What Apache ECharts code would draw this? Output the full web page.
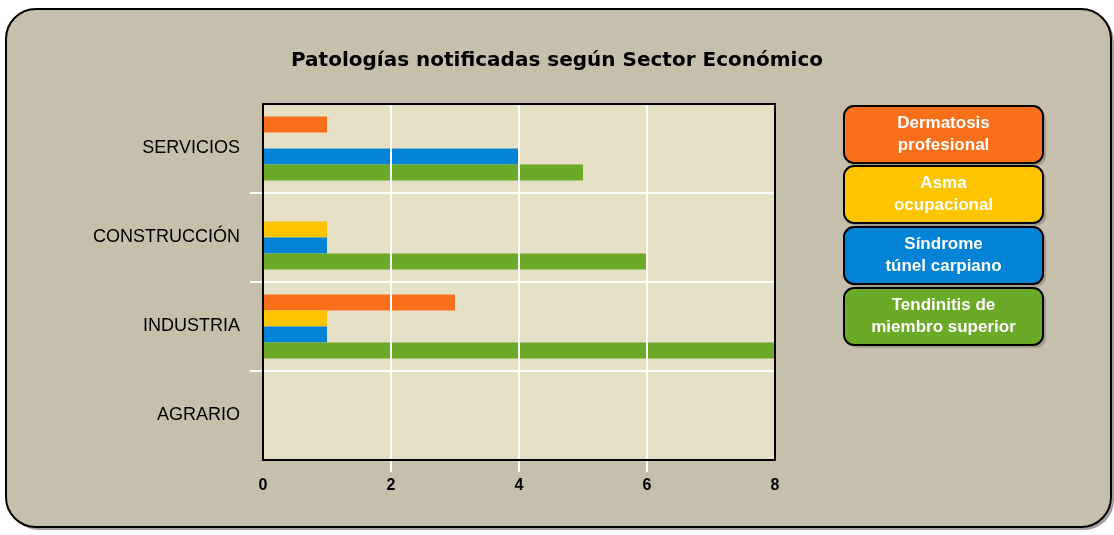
<!DOCTYPE html>
<html><head><meta charset="utf-8">
<script src="https://cdn.jsdelivr.net/npm/echarts@6/dist/echarts.min.js"></script>
<style>html,body{margin:0;padding:0;background:#fff}#c{width:1114px;height:535px}</style>
</head><body><div id="c"></div>
<script>
const titleText = 'Patologías notificadas según Sector Económico';
const categories = ['SERVICIOS', 'CONSTRUCCIÓN', 'INDUSTRIA', 'AGRARIO'];
const seriesNames = ['Dermatosis profesional', 'Asma ocupacional', 'Síndrome túnel carpiano', 'Tendinitis de miembro superior'];
const legendLabels = ['Dermatosis\nprofesional', 'Asma\nocupacional', 'Síndrome\ntúnel carpiano', 'Tendinitis de\nmiembro superior'];
const dermatosis = [1, 0, 3, 0];
const asma = [0, 1, 1, 0];
const sindrome = [4, 1, 1, 0];
const tendinitis = [5, 6, 8, 0];
const xTicks = [0, 2, 4, 6, 8];
const colors = ['#f96f1a', '#fec400', '#0283d6', '#6aaa27'];

const seriesData = [dermatosis, asma, sindrome, tendinitis];
const G = {left: 263, top: 104, width: 512, height: 356};

const chart = echarts.init(document.getElementById('c'), null, {renderer: 'canvas'});

const legendGraphics = [];
const boxTops = [105, 165, 226, 287];
legendLabels.forEach((lab, i) => {
  legendGraphics.push({
    type: 'group', left: 843, top: boxTops[i], z: 20,
    children: [
      {type: 'rect', shape: {x: 3, y: 3, width: 199, height: 57, r: 10},
       style: {fill: 'rgba(120,110,100,0.45)'}},
      {type: 'rect', shape: {x: 0, y: 0, width: 199, height: 57, r: 10},
       style: {fill: colors[i], stroke: '#000', lineWidth: 2}},
      {type: 'text', x: 99.5, y: 28.5,
       style: {text: lab, fill: '#fff', font: 'bold 17px "Liberation Sans", Arial, sans-serif', align: 'center', verticalAlign: 'middle', lineHeight: 22}}
    ]
  });
});

const option = {
  animation: false,
  title: {
    text: titleText, left: 'center', top: 46,
    textStyle: {fontFamily: '"DejaVu Sans", sans-serif', fontWeight: 'bold', fontSize: 20, color: '#000'}
  },
  graphic: [
    {type: 'rect', left: 9, top: 12, z: -11,
     shape: {width: 1105, height: 518, r: 30},
     style: {fill: '#a39e9c'}},
    {type: 'rect', left: 5, top: 8, z: -10,
     shape: {width: 1105, height: 518, r: 30},
     style: {fill: '#c6bfab', stroke: '#000', lineWidth: 2}},
    {type: 'rect', z: 15, silent: true,
     shape: {x: G.left, y: G.top, width: G.width, height: G.height},
     style: {fill: null, stroke: '#000', lineWidth: 2}},
    ...legendGraphics
  ],
  grid: [
    {left: G.left, top: G.top, width: G.width, height: G.height, show: true, backgroundColor: '#e6e0c6', borderWidth: 0, containLabel: false},
    {left: G.left, top: G.top, width: G.width, height: G.height, show: false, containLabel: false}
  ],
  xAxis: [
    {
      type: 'value', gridIndex: 0, min: 0, max: 8, interval: 2, z: 5, position: 'bottom',
      axisLine: {show: false, onZero: false},
      axisTick: {show: false},
      axisLabel: {margin: 18, color: '#000', fontSize: 16, fontWeight: 'bold', fontFamily: '"Liberation Sans", Arial, sans-serif'},
      splitLine: {show: true, lineStyle: {color: '#fff', width: 2}}
    },
    {
      type: 'category', gridIndex: 1, data: xTicks.map(String), boundaryGap: false, position: 'bottom', z: 5,
      axisLine: {show: true, onZero: false, lineStyle: {color: 'rgba(0,0,0,0)'}},
      axisTick: {show: true, length: 12, inside: false, lineStyle: {color: '#fff', width: 2},
                 interval: function (idx) { return idx > 0 && idx < xTicks.length - 1; }},
      axisLabel: {show: false},
      splitLine: {show: false}
    }
  ],
  yAxis: [
    {
      type: 'category', gridIndex: 0, data: categories, inverse: true,
      axisLine: {show: false, onZero: false}, axisTick: {show: false}, splitLine: {show: false},
      axisLabel: {margin: 23, color: '#000', fontSize: 18, fontFamily: '"Liberation Sans", Arial, sans-serif'}
    },
    {
      type: 'value', gridIndex: 0, min: 0, max: 4, interval: 1, inverse: true, position: 'left', z: 5,
      axisLine: {show: false, onZero: false}, axisLabel: {show: false},
      axisTick: {show: true, length: 13, lineStyle: {color: '#fff', width: 2}, customValues: [1, 2, 3]},
      splitLine: {show: true, lineStyle: {color: '#fff', width: 2}}
    },
    {
      type: 'value', gridIndex: 1, min: 0, max: 1, show: false
    }
  ],
  series: seriesNames.map((name, i) => ({
    name: name, type: 'bar', xAxisIndex: 0, yAxisIndex: 0, data: seriesData[i],
    barWidth: 16, barGap: '0%', z: 2,
    itemStyle: {color: colors[i]}
  }))
};
chart.setOption(option);
</script></body></html>
